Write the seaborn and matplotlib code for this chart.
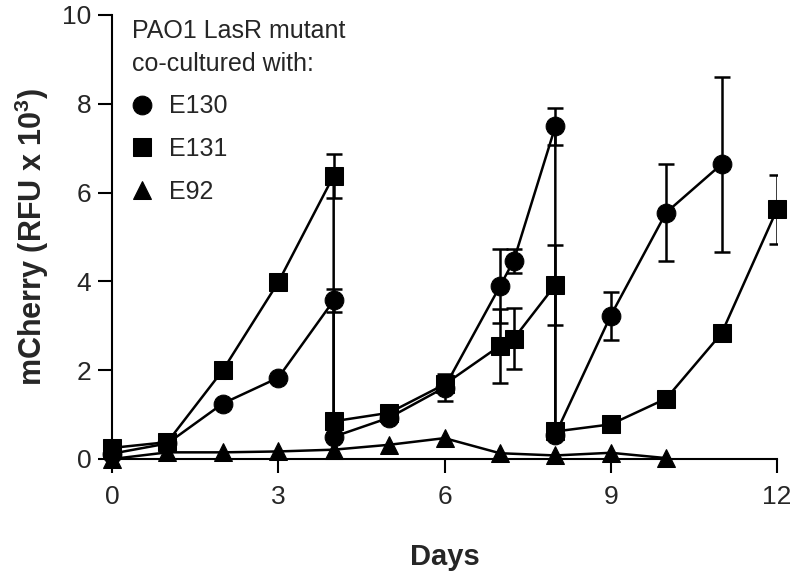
import numpy as np
import pandas as pd
import matplotlib
matplotlib.use("Agg")
import matplotlib.pyplot as plt
import seaborn as sns

# Datos (RFU x 10^3); los dias 4 y 8 se repiten (antes/despues del subcultivo)
days_e130 = [0, 1, 2, 3, 4, 4, 5, 6, 7, 7.25, 8, 8, 9, 10, 11]
rfu_e130 = [0.12, 0.35, 1.25, 1.83, 3.57, 0.50, 0.93, 1.61, 3.89, 4.47, 7.49, 0.55, 3.23, 5.55, 6.64]
err_e130 = [0, 0, 0, 0, 0.26, 0, 0, 0.30, 0.83, 0.27, 0.42, 0, 0.54, 1.10, 1.97]

days_e131 = [0, 1, 2, 3, 4, 4, 5, 6, 7, 7.25, 8, 8, 9, 10, 11, 12]
rfu_e131 = [0.25, 0.38, 2.0, 3.98, 6.38, 0.85, 1.04, 1.68, 2.55, 2.71, 3.92, 0.62, 0.78, 1.36, 2.83, 5.62]
err_e131 = [0, 0, 0, 0, 0.50, 0, 0, 0, 0.83, 0.68, 0.90, 0, 0, 0, 0, 0.78]

days_e92 = [0, 1, 2, 3, 4, 5, 6, 7, 8, 9, 10]
rfu_e92 = [0.0, 0.15, 0.15, 0.17, 0.21, 0.32, 0.47, 0.13, 0.08, 0.14, 0.02]
err_e92 = [0] * len(days_e92)

strains = ["E130", "E131", "E92"]
marker_map = {"E130": "o", "E131": "s", "E92": "^"}

df = pd.concat([
    pd.DataFrame({"strain": "E130", "day": days_e130, "rfu": rfu_e130, "err": err_e130}),
    pd.DataFrame({"strain": "E131", "day": days_e131, "rfu": rfu_e131, "err": err_e131}),
    pd.DataFrame({"strain": "E92", "day": days_e92, "rfu": rfu_e92, "err": err_e92}),
], ignore_index=True)

sns.set_style("ticks")
plt.rcParams["font.family"] = ["Liberation Sans", "DejaVu Sans"]
plt.rcParams["mathtext.fontset"] = "custom"
plt.rcParams["mathtext.rm"] = "Liberation Sans"
plt.rcParams["mathtext.bf"] = "Liberation Sans:bold"

fig = plt.figure(figsize=(7.96, 5.75), dpi=100)
ax = fig.add_axes([112 / 796, 1 - 459 / 575, 665 / 796, 444 / 575])

# barras de error primero, debajo de los marcadores
with_err = df[df["err"] > 0]
ax.errorbar(with_err["day"], with_err["rfu"], yerr=with_err["err"], fmt="none",
            ecolor="black", elinewidth=1.8, capsize=5.5, capthick=1.8, zorder=1)

sns.lineplot(
    data=df, x="day", y="rfu", style="strain", style_order=strains,
    markers=marker_map, dashes=False, color="black",
    estimator=None, sort=False, markersize=13.5,
    markeredgecolor="black", markeredgewidth=0.75,
    linewidth=1.8, clip_on=False, ax=ax, zorder=3,
)

ax.set_xlim(0, 12)
ax.set_ylim(0, 10)
ax.set_xticks([0, 3, 6, 9, 12])
ax.set_yticks([0, 2, 4, 6, 8, 10])
ax.tick_params(axis="both", labelsize=19, width=1.5, length=10, color="black")
ax.tick_params(axis="x", pad=9)
ax.tick_params(axis="y", pad=5)
for s in ["left", "bottom"]:
    ax.spines[s].set_linewidth(1.5)
    ax.spines[s].set_color("black")
sns.despine(ax=ax)

ax.set_xlabel("Days", fontsize=21, fontweight="bold", labelpad=24)
ax.set_ylabel(r"mCherry (RFU x 10$^\mathbf{3}$)", fontsize=22, fontweight="bold", labelpad=8)

handles, labels = ax.get_legend_handles_labels()
for h in handles:
    h.set_linestyle("None")
leg = ax.legend(handles, labels, title="PAO1 LasR mutant\nco-cultured with:",
                loc="upper left", bbox_to_anchor=(0.03, 0.991), frameon=False,
                fontsize=18, title_fontsize=18, alignment="left",
                handlelength=0.8, handletextpad=0.7, labelspacing=0.75,
                borderpad=0, borderaxespad=0)
leg.get_title().set_linespacing(1.45)

fig.savefig("out.png", dpi=100)
plt.close(fig)
